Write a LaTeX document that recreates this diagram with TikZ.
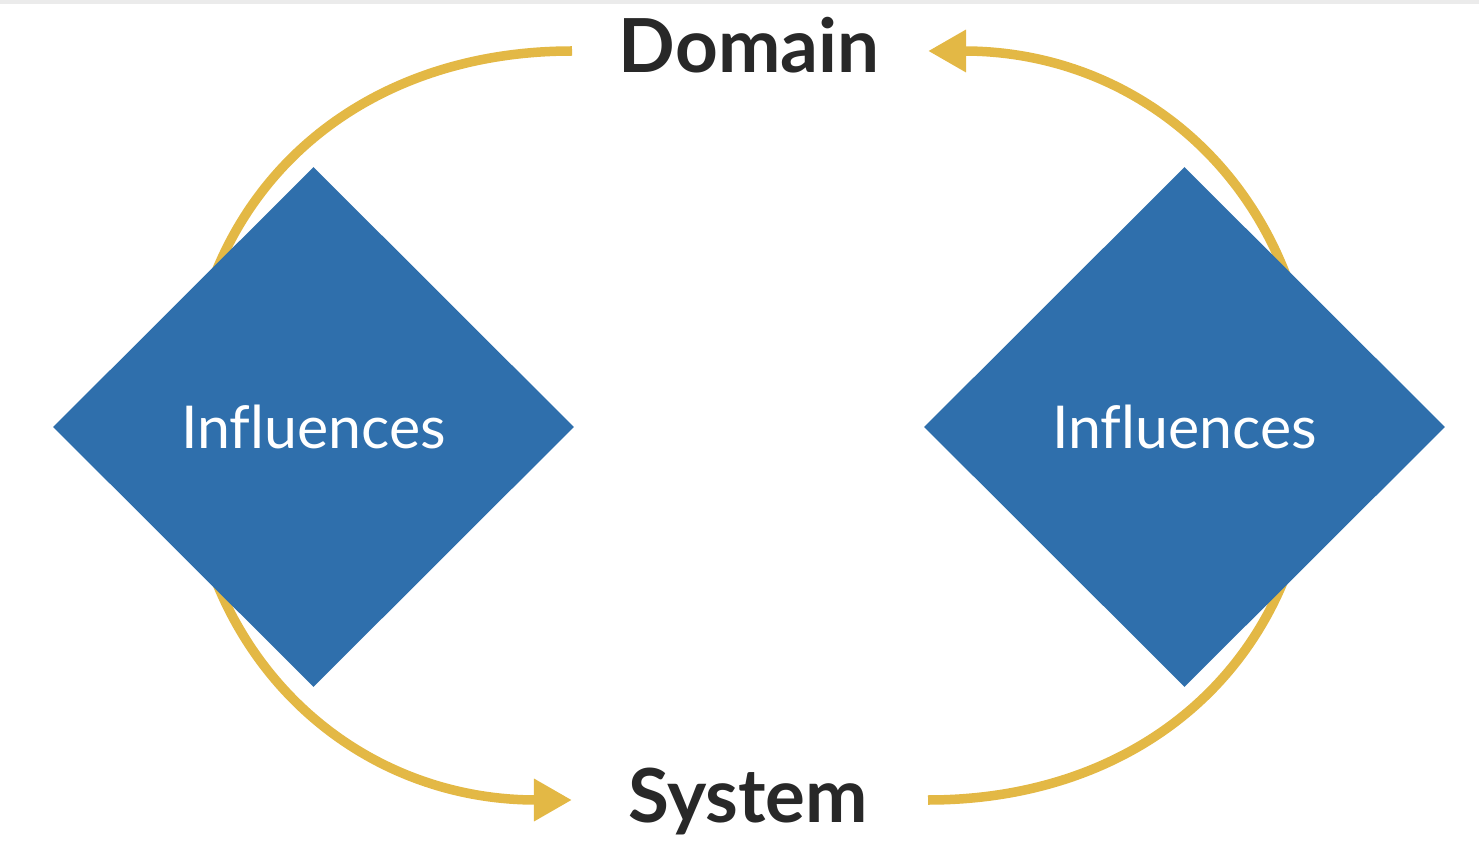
\documentclass[tikz,border=0pt]{standalone}
\usepackage{fontspec}
\setmainfont{Lato}[Ligatures=CommonOff]
\usetikzlibrary{shapes.geometric,arrows.meta}
\definecolor{infblue}{HTML}{2F6FAC}
\definecolor{arcgold}{HTML}{E3B845}
\definecolor{termgray}{HTML}{282828}
\tikzset{
  term/.style={text=termgray, inner sep=0pt, font=\fontsize{21.2}{25}\selectfont\bfseries},
  influence/.style={diamond, fill=infblue, text=white, inner sep=0pt,
    minimum width=5.21cm, minimum height=5.2cm, font=\fontsize{16.8}{19}\selectfont},
  goldarc/.style={draw=arcgold, line width=0.095cm, -{Triangle[length=0.38cm, width=0.4cm]}}
}
\begin{document}
\begin{tikzpicture}[x=0.01cm, y=-0.01cm]
  \useasboundingbox (0,0) rectangle (1479,849);
  % Top strip
  \fill [black!8] (0,0) rectangle (1479,4);

  % Terms
  \node [term, anchor=base] (domain) at (749,73) {Domain};
  \node [term, anchor=base] (system) at (748,822) {System};

  % Arc ends
  \coordinate (domainL) at (572,51);
  \coordinate (domainR) at (928,51);
  \coordinate (systemL) at (572,800);
  \coordinate (systemR) at (928,800);

  % Arcs
  \draw [goldarc] (domainL) .. controls (347,51) and (187,202) .. (187,426)
        .. controls (187,649) and (347,800) .. (systemL);
  \draw [goldarc] (systemR) .. controls (1153,800) and (1313,649) .. (1313,426)
        .. controls (1313,202) and (1153,51) .. (domainR);

  % Influences
  \node [influence] (infleft) at (313.5,427) {Influences};
  \node [influence] (infright) at (1184.5,427) {Influences};
\end{tikzpicture}
\end{document}
